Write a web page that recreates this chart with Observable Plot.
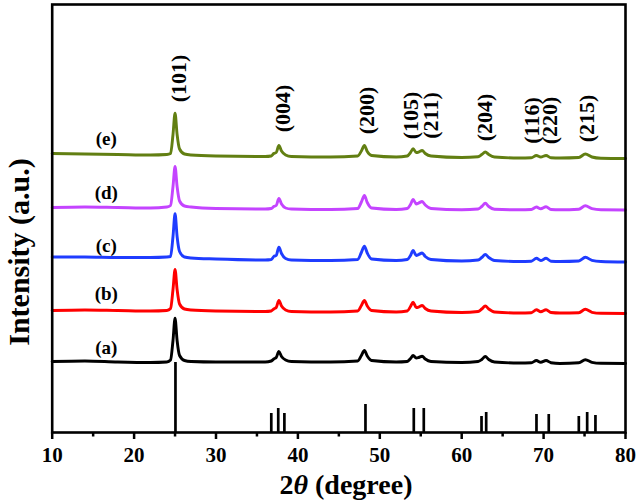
<!DOCTYPE html>
<html>
<head>
<meta charset="utf-8">
<script src="https://cdn.jsdelivr.net/npm/d3@7"></script>
<script src="https://cdn.jsdelivr.net/npm/@observablehq/plot@0.6"></script>
<style>
  html, body { margin: 0; padding: 0; background: #fff; }
</style>
</head>
<body>
<div id="chart"></div>
<script>
// ---- data ----
const theta = [10, 14, 18, 22, 24,
  24.45, 24.75, 25.0, 25.25, 25.55, 26.15, 26.95,
  30, 36,
  36.75, 37.05, 37.35, 37.68, 38.0, 38.5, 39.2,
  44,
  47.3, 47.75, 48.12, 48.47, 49.0,
  52,
  53.35, 53.75, 54.07, 54.45, 54.75, 55.17, 55.55, 56.25,
  60,
  62.0, 62.45, 62.88, 63.3, 64.0,
  67,
  68.5, 69.12, 69.65, 70.3, 70.9,
  72,
  74.3, 75.1, 75.9, 77,
  80];

const sampleA = [71, 71.5, 70.5, 70, 70.5, 72.5, 92, 114.3, 92, 77, 72, 71, 70.5, 70.5, 71.5, 73.5, 75, 81, 76, 72.5, 71, 70.5, 71.5, 77, 82, 76.5, 72, 70.5, 71, 74, 77, 74.5, 75, 76.3, 73.5, 71, 70, 71, 73, 76, 73, 70.5, 69.5, 69.7, 72, 70.2, 72, 69.8, 69, 69.7, 72.8, 70.2, 69.2, 69];
const sampleB = [122, 122.5, 122, 121.5, 122, 124, 143, 163, 143, 128.5, 123.5, 122.5, 121.5, 121, 121.5, 123.5, 125, 132, 126.5, 122.5, 121, 120.5, 121.5, 127, 132, 126.5, 122, 120.5, 121.5, 126, 130.3, 125, 125.5, 127, 124, 121.5, 120, 121, 123.5, 126.5, 123.5, 120.5, 119.5, 119.8, 122.7, 120.7, 122.7, 120, 119.5, 119.8, 123.2, 120.2, 119.2, 119];
const sampleC = [175.5, 175.5, 175, 175, 175.5, 176, 196, 218.7, 196, 181, 175.5, 174.5, 173.5, 172.5, 173, 176, 177, 185.3, 179, 174, 172.5, 172, 173, 180, 186.3, 179.5, 173.5, 172, 173, 177, 182, 177, 178, 179.5, 176, 173, 171.5, 172.5, 175, 178, 175, 172, 171, 171.3, 174.2, 172, 174.2, 171.3, 171, 171.5, 175.2, 172.2, 171, 170.5];
const sampleD = [225, 225.5, 225, 224.5, 225.5, 227, 246, 266, 246, 231.5, 226.5, 225.5, 224, 223.5, 224, 226, 227, 234, 228.5, 224.5, 223.5, 223, 224, 230.5, 237, 230, 224.5, 223, 224, 228, 233, 228.5, 229.5, 231, 227.5, 224, 222.7, 223.5, 226, 229.3, 226, 223.2, 222.7, 223, 225.5, 223.7, 225.7, 223, 222.7, 223.3, 226.7, 223.8, 222.7, 222.5];
const sampleE = [279, 278.5, 278, 277.5, 278, 279, 298, 319.3, 298, 283.5, 278.5, 277.5, 276.5, 276, 276.5, 279, 280, 287, 281.5, 277.5, 276, 275.5, 276.5, 281.5, 287, 281, 277, 275.5, 276.5, 280, 283.7, 280, 280.5, 282, 279, 276.5, 275, 275.8, 278, 280.5, 278, 275.5, 274.5, 274.7, 277, 275.5, 277, 274.8, 274.5, 275, 278.5, 275.5, 274.3, 274];

const sampleNames = ["(a)", "(b)", "(c)", "(d)", "(e)"];
const sampleColors = ["#000000", "#ff0000", "#1f3cff", "#c444ff", "#627f12"];
const sampleLabelTheta = 16.6;
const sampleLabelY = [85, 139, 187, 240, 294];

// standard (JCPDS) reference lines
const refTheta = [25.05, 36.75, 37.6, 38.35, 48.25, 54.15, 55.37, 62.42, 62.99, 69.13, 70.63, 74.3, 75.32, 76.33];
const refHeight = [70, 19, 24, 19, 28, 24, 24, 16, 20, 18, 18, 16, 20, 17];

// Miller index labels
const hklText = ["(101)", "(004)", "(200)", "(105)", "(211)", "(204)", "(116)", "(220)", "(215)"];
const hklTheta = [25.46, 38.16, 48.46, 53.75, 56.3, 62.9, 68.58, 70.78, 75.32];
const hklY = [354, 324, 322, 317, 317, 315, 312, 312, 314];

const majorTicks = [10, 20, 30, 40, 50, 60, 70, 80];
const minorTicks = [15, 25, 35, 45, 55, 65, 75];

// ---- build tables ----
const series = [sampleA, sampleB, sampleC, sampleD, sampleE];
const refs = refTheta.map((t, i) => ({theta: t, h: refHeight[i]}));
const hkl = hklText.map((s, i) => ({text: s, theta: hklTheta[i], y: hklY[i]}));
const sampleLabels = sampleNames.map((s, i) => ({text: s, theta: sampleLabelTheta, y: sampleLabelY[i]}));

const serif = "'Liberation Serif', 'Times New Roman', Times, serif";

const lineMarks = series.map((vals, k) =>
  Plot.line(theta.map((t, i) => ({theta: t, intensity: vals[i]})), {
    x: "theta", y: "intensity", stroke: sampleColors[k], strokeWidth: 2.9,
    curve: "monotone-x", strokeLinejoin: "round"
  })
);

const chart = Plot.plot({
  width: 640,
  height: 504,
  marginLeft: 51.7,
  marginRight: 15,
  marginTop: 4,
  marginBottom: 72,
  style: {fontFamily: serif, background: "white", fontWeight: "bold"},
  x: {domain: [10, 80]},
  y: {domain: [0, 428], axis: null},
  marks: [
    Plot.ruleX(refs, {x: "theta", y1: 0, y2: "h", stroke: "black", strokeWidth: 2.7}),
    ...lineMarks,
    Plot.text(sampleLabels, {x: "theta", y: "y", text: "text", fontSize: 19, fontWeight: "bold", fontFamily: serif, fill: "black"}),
    Plot.text(hkl, {x: "theta", y: "y", text: "text", rotate: -90, fontSize: 22, fontWeight: "bold", fontFamily: serif, fill: "black"}),
    Plot.ruleX(minorTicks, {x: d => d, y1: 0, y2: 0, insetBottom: -4.5, stroke: "black", strokeWidth: 2.5}),
    Plot.axisX(majorTicks, {tickSize: 7, tickPadding: 8, fontSize: 21, fontWeight: "bold", fontFamily: serif, strokeWidth: 2.5, label: null, tickFormat: d => String(d)}),
    Plot.frame({stroke: "black", strokeWidth: 2.6})
  ]
});

document.getElementById("chart").appendChild(chart);

const svgEl = chart.tagName.toLowerCase() === "svg" ? chart : chart.querySelector("svg");
const svg = d3.select(svgEl);

// x-axis title with italic theta
const xt = svg.append("text")
  .attr("x", 346).attr("y", 494)
  .attr("text-anchor", "middle")
  .attr("font-family", serif)
  .attr("font-weight", "bold")
  .attr("font-size", 28)
  .attr("fill", "black");
xt.append("tspan").text("2");
xt.append("tspan").attr("font-style", "italic").text("θ");
xt.append("tspan").text(" (degree)");

// y-axis title
svg.append("text")
  .attr("transform", "translate(29,252) rotate(-90)")
  .attr("text-anchor", "middle")
  .attr("font-family", serif)
  .attr("font-weight", "bold")
  .attr("font-size", 30)
  .attr("fill", "black")
  .text("Intensity (a.u.)");
</script>
</body>
</html>
